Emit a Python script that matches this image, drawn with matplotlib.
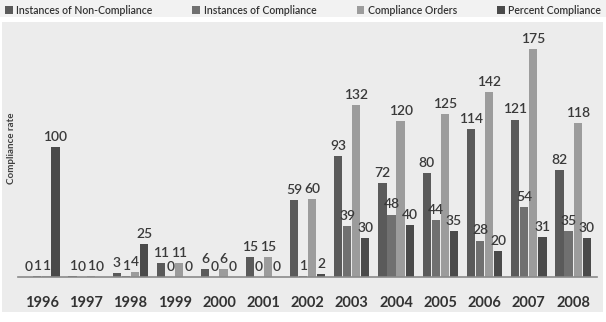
import matplotlib.pyplot as plt
import numpy as np
from matplotlib.patches import Rectangle

# data
years = ["1996", "1997", "1998", "1999", "2000", "2001", "2002",
         "2003", "2004", "2005", "2006", "2007", "2008"]
non_compliance = [0, 1, 3, 11, 6, 15, 59, 93, 72, 80, 114, 121, 82]
compliance = [1, 0, 1, 0, 0, 0, 1, 39, 48, 44, 28, 54, 35]
orders = [1, 1, 4, 11, 6, 15, 60, 132, 120, 125, 142, 175, 118]
percent = [100, 0, 25, 0, 0, 0, 2, 30, 40, 35, 20, 31, 30]

series_names = ["Instances of Non-Compliance", "Instances of Compliance",
                "Compliance Orders", "Percent Compliance"]
colors = ["#5a5a5a", "#707070", "#9c9c9c", "#4a4a4a"]

plt.rcParams['font.family'] = ['Lato', 'DejaVu Sans']

W, H = 606, 322
fig = plt.figure(figsize=(W / 100, H / 100), dpi=100)

# gray plot box behind everything
fig.patches.append(Rectangle((2 / W, 1 - 312 / H), 601 / W, 290 / H,
                             transform=fig.transFigure, facecolor="#ececec",
                             edgecolor="none", zorder=-5))
fig.patches.append(Rectangle((0, 1 - 17 / H), 1, 17 / H,
                             transform=fig.transFigure, facecolor="#f2f2f2",
                             edgecolor="none", zorder=-5))

ax = fig.add_axes([18 / W, 1 - 277 / H, 579 / W, 255 / H])
ax.set_zorder(1)
ax.patch.set_alpha(0)

x = np.arange(len(years))
width = 0.185
step = 0.205
all_series = [non_compliance, compliance, orders, percent]
bars = []
for i, vals in enumerate(all_series):
    b = ax.bar(x + (i - 1.5) * step, vals, width, color=colors[i],
               label=series_names[i], zorder=2)
    bars.append(b)
    ax.bar_label(b, labels=[str(v) for v in vals], padding=3,
                 fontsize=10, color="#3a3a3a", fontweight="semibold")

ax.set_xlim(-0.54, 12.54)
ax.set_ylim(0, 196)
ax.set_xticks(x)
ax.set_xticklabels(years, fontsize=10.5, fontweight="bold", color="#333333")
ax.tick_params(axis="x", length=0, pad=14)
ax.set_yticks([])
for s in ["top", "right", "left"]:
    ax.spines[s].set_visible(False)
ax.spines["bottom"].set_color("#8a8a8a")
ax.spines["bottom"].set_linewidth(1.2)

fig.text(12 / W, 1 - 148 / H, "Compliance rate", rotation=90,
         fontsize=7, fontweight="bold", color="#404040",
         ha="center", va="center")

leg = fig.legend(handles=bars, labels=series_names, ncol=4,
                 loc="upper left", bbox_to_anchor=(0.0, 1.0, 1.0, 0.0),
                 mode="expand", frameon=False, fontsize=7.6,
                 handlelength=0.75, handleheight=0.75, handletextpad=0.3,
                 borderaxespad=0.2, borderpad=0.25, labelcolor="#333333")
for t in leg.get_texts():
    t.set_fontweight("semibold")

fig.savefig("out.png", dpi=100)
